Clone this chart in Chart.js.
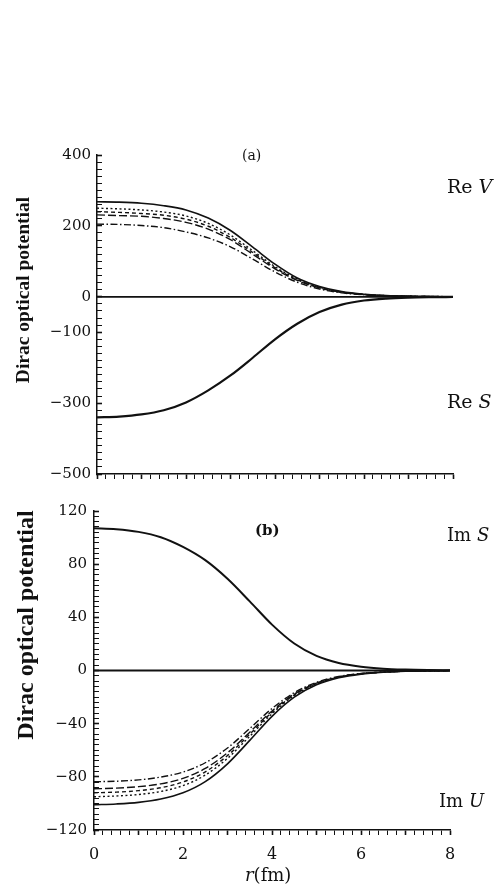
<!DOCTYPE html>
<html><head><meta charset="utf-8">
<script src="https://cdn.jsdelivr.net/npm/chart.js@4.4.1/dist/chart.umd.min.js"></script>
<style>
html,body{margin:0;padding:0;background:#fff;}
#wrap{position:relative;width:496px;height:890px;overflow:hidden;background:#fff;}
canvas{position:absolute;left:0;}
.t{position:absolute;font-family:"DejaVu Serif",serif;color:#111;white-space:nowrap;line-height:1;}
.yt{position:absolute;font-family:"Liberation Serif",serif;font-weight:bold;color:#111;white-space:nowrap;line-height:1;transform:translate(-50%,-50%) rotate(-90deg);}
</style></head>
<body><div id="wrap">
<canvas id="ca" width="496" height="500" style="top:0"></canvas>
<canvas id="cb" width="496" height="400" style="top:490px"></canvas>
<div class="yt" style="left:23px;top:290px;font-size:19.5px;">Dirac optical potential</div>
<div class="yt" style="left:25px;top:625px;font-size:24px;">Dirac optical potential</div>
<div class="t" style="left:242px;top:148px;font-size:14px;">(a)</div>
<div class="t" style="left:255px;top:523px;font-size:15px;font-weight:bold;">(b)</div>
<div class="t" style="left:447px;top:177px;font-size:19px;">Re <i>V</i></div>
<div class="t" style="left:447px;top:392px;font-size:19px;">Re <i>S</i></div>
<div class="t" style="left:447px;top:526px;font-size:18px;">Im <i>S</i></div>
<div class="t" style="left:439px;top:792px;font-size:18px;">Im <i>U</i></div>
<div class="t" style="left:245px;top:866px;font-size:18px;"><i>r</i>(fm)</div>
</div>
<script>
// radius (fm)
const r = [0, 0.5, 1, 1.5, 2, 2.5, 3, 3.5, 4, 4.5, 5, 5.5, 6, 6.5, 7, 7.5, 8];
const zeroLine = [0, 0, 0, 0, 0, 0, 0, 0, 0, 0, 0, 0, 0, 0, 0, 0, 0];

// panel (a): Re V (five curves) and Re S (curves coincide)
const reV_solid    = [268, 267, 264, 257, 245, 222, 187, 140, 92, 53, 29, 14.5, 7.2, 3.5, 1.7, 0.8, 0.4];
const reV_dotted   = [250, 248, 245, 239, 228, 207, 174, 130, 85, 50, 27, 13.5, 6.7, 3.2, 1.6, 0.8, 0.4];
const reV_dashed   = [240, 238, 235, 230, 219, 199, 167, 125, 82, 48, 26, 13, 6.4, 3.1, 1.5, 0.7, 0.3];
const reV_longdash = [231, 229, 227, 221, 210, 191, 161, 120, 79, 46, 25, 12.5, 6.1, 3, 1.4, 0.7, 0.3];
const reV_dashdot  = [205, 204, 201, 195, 183, 166, 141, 106, 70, 41, 22, 11, 5.5, 2.7, 1.3, 0.6, 0.3];
const reS          = [-340, -338, -332, -320, -298, -264, -222, -172, -120, -76, -43, -22, -10.5, -5, -2.4, -1.2, -0.6];

// panel (b): Im S (curves coincide) and Im U (five curves)
const imS          = [107, 106.3, 104.3, 100.3, 93, 83, 69, 52, 34.5, 20.3, 11, 5.7, 2.9, 1.4, 0.7, 0.35, 0.2];
const imU_solid    = [-101, -100.4, -99.2, -96.7, -92, -83.6, -70.2, -52.6, -34.5, -20.1, -10.8, -5.5, -2.7, -1.3, -0.6, -0.3, -0.1];
const imU_dotted   = [-95, -94.4, -93.3, -91, -86.6, -78.7, -66.1, -49.5, -32.5, -18.9, -10.1, -5.1, -2.5, -1.2, -0.6, -0.3, -0.1];
const imU_dashed   = [-92, -91.5, -90.4, -88.2, -83.9, -76.2, -64, -47.9, -31.5, -18.3, -9.8, -5, -2.5, -1.2, -0.6, -0.3, -0.1];
const imU_longdash = [-89, -88.5, -87.4, -85.3, -81.2, -73.7, -61.9, -46.4, -30.4, -17.7, -9.5, -4.8, -2.4, -1.2, -0.6, -0.3, -0.1];
const imU_dashdot  = [-83.7, -83.3, -82.3, -80.2, -76.4, -69.4, -58.3, -43.6, -28.6, -16.7, -8.9, -4.5, -2.2, -1.1, -0.5, -0.3, -0.1];

// tick labels
const yLabelsA = [400, 200, 0, -100, -300, -500];
const yLabelsB = [120, 80, 40, 0, -40, -80, -120];
const xLabels  = [0, 2, 4, 6, 8];

const INK = '#111';
const pts = arr => r.map((x, i) => ({x: x, y: arr[i]}));
const fmt = v => (v < 0 ? '\u2212' + Math.abs(v) : String(v));

const STYLES = {
  solid:    {borderDash: [], borderWidth: 1.6},
  dotted:   {borderDash: [2, 2.5], borderWidth: 1.4},
  dashed:   {borderDash: [4, 3], borderWidth: 1.4},
  longdash: {borderDash: [8, 3], borderWidth: 1.4},
  dashdot:  {borderDash: [7, 2.5, 1.5, 2.5], borderWidth: 1.4}
};
function ds(arr, style, width) {
  const s = STYLES[style];
  return {data: pts(arr), borderColor: INK, borderWidth: width || s.borderWidth,
          borderDash: s.borderDash, pointRadius: 0, fill: false,
          cubicInterpolationMode: 'monotone'};
}

function makeChart(id, cfg) {
  return new Chart(document.getElementById(id), {
    type: 'line',
    data: {datasets: cfg.datasets},
    options: {
      responsive: false, animation: false,
      layout: {padding: {left: 0, right: cfg.padRight, top: cfg.padTop, bottom: 0}},
      plugins: {legend: {display: false}, tooltip: {enabled: false}},
      scales: {
        x: {
          type: 'linear', min: 0, max: 8,
          afterFit: s => { s.height = cfg.xHeight; },
          border: {display: true, color: INK, width: 1.5},
          grid: {drawOnChartArea: false, drawTicks: true, tickLength: 5, color: INK,
                 tickWidth: c => (Math.abs(c.tick.value - Math.round(c.tick.value)) < 1e-6 ? 1.6 : 1)},
          ticks: {stepSize: 0.2, maxTicksLimit: 1000, autoSkip: false, maxRotation: 0, minRotation: 0,
                  padding: 10, color: INK, font: {family: 'DejaVu Serif', size: 16},
                  callback: v => {
                    if (!cfg.showX) return '';
                    const k = Math.round(v);
                    return (Math.abs(v - k) < 1e-6 && xLabels.includes(k)) ? String(k) : '';
                  }}
        },
        y: {
          type: 'linear', min: cfg.yMin, max: cfg.yMax,
          afterFit: s => { s.width = cfg.yWidth; },
          border: {display: true, color: INK, width: 1.5},
          grid: {drawOnChartArea: false, drawTicks: true, tickLength: -5, color: INK,
                 tickWidth: c => (cfg.yLabels.includes(c.tick.value) ? 1.6 : 1)},
          ticks: {stepSize: cfg.yStep, maxTicksLimit: 1000, autoSkip: false,
                  padding: cfg.yPad, color: INK, font: {family: 'DejaVu Serif', size: 15},
                  callback: v => (cfg.yLabels.includes(v) ? fmt(v) : '')}
        }
      }
    }
  });
}

makeChart('ca', {
  padRight: 43, padTop: 155, xHeight: 26, yWidth: 97, yMin: -500, yMax: 400, yStep: 20,
  yLabels: yLabelsA, yPad: 11, showX: false,
  datasets: [
    ds(zeroLine, 'solid', 1.8),
    ds(reV_solid, 'solid'),
    ds(reV_dotted, 'dotted'),
    ds(reV_dashed, 'dashed'),
    ds(reV_longdash, 'longdash'),
    ds(reV_dashdot, 'dashdot'),
    ds(reS, 'solid', 2.2)
  ]
});

makeChart('cb', {
  padRight: 46, padTop: 21, xHeight: 60, yWidth: 94, yMin: -120, yMax: 120, yStep: 4,
  yLabels: yLabelsB, yPad: 12, showX: true,
  datasets: [
    ds(zeroLine, 'solid', 1.8),
    ds(imS, 'solid', 2),
    ds(imU_solid, 'solid'),
    ds(imU_dotted, 'dotted'),
    ds(imU_dashed, 'dashed'),
    ds(imU_longdash, 'longdash'),
    ds(imU_dashdot, 'dashdot')
  ]
});
</script>
</body></html>
